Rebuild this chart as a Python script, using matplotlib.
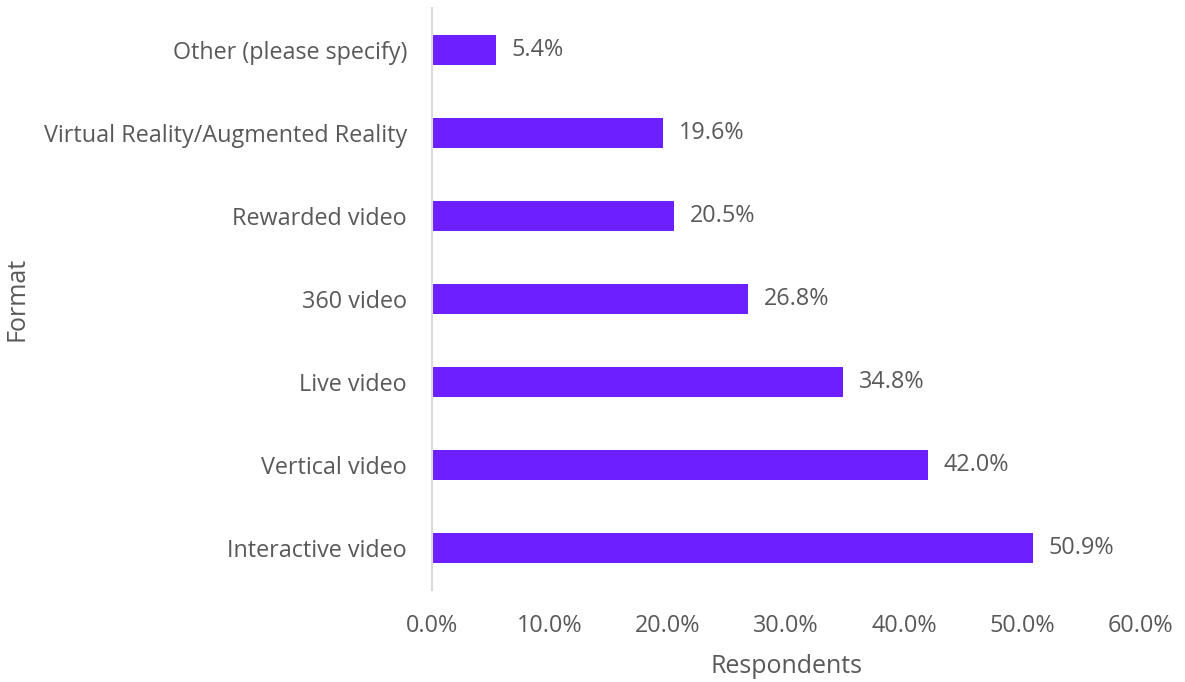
import matplotlib
matplotlib.use("Agg")
import matplotlib.pyplot as plt
from matplotlib.ticker import FuncFormatter

categories = ["Interactive video", "Vertical video", "Live video", "360 video",
              "Rewarded video", "Virtual Reality/Augmented Reality", "Other (please specify)"]
values = [50.9, 42.0, 34.8, 26.8, 20.5, 19.6, 5.4]
xticks = [0, 10, 20, 30, 40, 50, 60]

plt.rcParams['font.family'] = ['Open Sans', 'DejaVu Sans']
text_color = "#595959"
bar_color = "#6E1FFF"

fig = plt.figure(figsize=(11.85, 6.82), dpi=100)
ax = fig.add_axes([0.3646, 0.135, 0.5975, 0.853])
y = list(range(len(categories)))
ax.barh(y, values, height=0.36, color=bar_color)
for yi, v in zip(y, values):
    ax.text(v + 1.35, yi, f"{v:.1f}%", va="center", ha="left", fontsize=16.8, color=text_color)

ax.set_xlim(0, 60)
ax.set_ylim(-0.5, 6.5)
ax.set_xticks(xticks)
ax.xaxis.set_major_formatter(FuncFormatter(lambda x, p: f"{x:.1f}%"))
ax.set_yticks(y)
ax.set_yticklabels(categories)
ax.tick_params(axis="both", length=0, labelsize=16.8, colors=text_color)
ax.tick_params(axis="x", pad=17)
ax.tick_params(axis="y", pad=18)
for s in ["top", "right", "bottom"]:
    ax.spines[s].set_visible(False)
ax.spines["left"].set_color("#D9D9D9")
ax.spines["left"].set_linewidth(1.5)
ax.set_xlabel("Respondents", fontsize=18, color=text_color)
ax.xaxis.set_label_coords(0.5, -0.11)
ax.set_ylabel("Format", fontsize=18, color=text_color)
ax.yaxis.set_label_coords(-0.568, 0.5)

fig.savefig("out.png", dpi=100)
